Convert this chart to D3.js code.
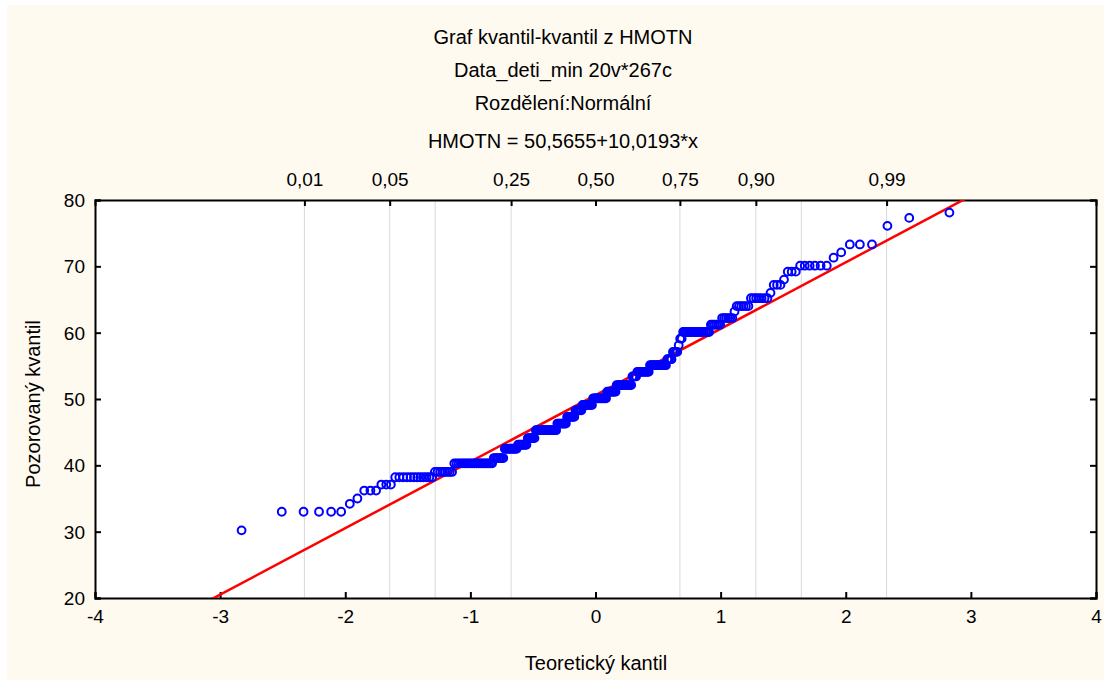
<!DOCTYPE html>
<html>
<head>
<meta charset="utf-8">
<script src="https://cdn.jsdelivr.net/npm/d3@7"></script>
<style>
  body { margin: 0; background: #ffffff; }
  text { font-family: "Liberation Sans", Arial, sans-serif; fill: #000; }
</style>
</head>
<body>
<div id="chart"></div>
<script>
// chart texts
var titleLines = ["Graf kvantil-kvantil z HMOTN", "Data_deti_min 20v*267c", "Rozdělení:Normální", "HMOTN = 50,5655+10,0193*x"];
var xTitle = "Teoretický kantil";
var yTitle = "Pozorovaný kvantil";

// observed (sorted) values of HMOTN and how many cases have each value
var obsValues = [30.2, 33.0, 34.2, 35.0, 36.2, 37.1, 38.2, 39.0, 40.3, 41.1, 42.5, 43.1, 44.1, 45.3, 46.3, 47.3, 48.3, 49.1, 50.1, 51.1, 52.1, 53.4, 54.1, 55.1, 56.0, 57.1, 58.1, 59.1, 60.1, 61.2, 62.2, 63.2, 64.0, 65.2, 66.0, 67.2, 68.0, 69.2, 70.1, 71.3, 72.1, 73.3, 76.1, 77.3, 78.1];
var obsCounts = [1, 5, 1, 1, 3, 3, 12, 8, 21, 7, 9, 7, 6, 17, 8, 7, 6, 9, 12, 8, 13, 4, 10, 13, 4, 4, 1, 2, 17, 6, 6, 1, 6, 7, 1, 3, 1, 3, 6, 1, 1, 3, 1, 1, 1];

// fitted line
var lineIntercept = 50.5655;
var lineSlope = 10.0193;

// axes
var xTicks = [-4, -3, -2, -1, 0, 1, 2, 3, 4];
var yTicks = [20, 30, 40, 50, 60, 70, 80];
var probGrid = [0.01, 0.05, 0.10, 0.25, 0.75, 0.90, 0.95, 0.99];
var probLabels = [0.01, 0.05, 0.25, 0.50, 0.75, 0.90, 0.99];

var svgWidth = 1104;
var svgHeight = 680;

var margin = { top: 200, right: 8, bottom: 82, left: 95 };
var width = svgWidth - margin.left - margin.right;
var height = svgHeight - margin.top - margin.bottom;

// inverse normal cdf (Acklam)
function qnorm(p) {
  var a = [-3.969683028665376e+01, 2.209460984245205e+02, -2.759285104469687e+02, 1.383577518672690e+02, -3.066479806614716e+01, 2.506628277459239e+00];
  var b = [-5.447609879822406e+01, 1.615858368580409e+02, -1.556989798598866e+02, 6.680131188771972e+01, -1.328068155288572e+01];
  var c = [-7.784894002430293e-03, -3.223964580411365e-01, -2.400758277161838e+00, -2.549732539343734e+00, 4.374664141464968e+00, 2.938163982698783e+00];
  var d = [7.784695709041462e-03, 3.224671290700398e-01, 2.445134137142996e+00, 3.754408661907416e+00];
  var pl = 0.02425, q, r;
  if (p < pl) {
    q = Math.sqrt(-2 * Math.log(p));
    return (((((c[0]*q+c[1])*q+c[2])*q+c[3])*q+c[4])*q+c[5]) / ((((d[0]*q+d[1])*q+d[2])*q+d[3])*q+1);
  }
  if (p > 1 - pl) {
    q = Math.sqrt(-2 * Math.log(1 - p));
    return -(((((c[0]*q+c[1])*q+c[2])*q+c[3])*q+c[4])*q+c[5]) / ((((d[0]*q+d[1])*q+d[2])*q+d[3])*q+1);
  }
  q = p - 0.5;
  r = q * q;
  return (((((a[0]*r+a[1])*r+a[2])*r+a[3])*r+a[4])*r+a[5])*q / (((((b[0]*r+b[1])*r+b[2])*r+b[3])*r+b[4])*r+1);
}

// expand counts into sorted cases, theoretical quantile by rank (Blom)
var cases = [];
obsValues.forEach(function(v, k) {
  for (var j = 0; j < obsCounts[k]; j++) cases.push(v);
});
var n = cases.length;
var qqData = cases.map(function(v, i) {
  return { x: qnorm((i + 1 - 0.375) / (n + 0.25)), y: v };
});

var svg = d3.select("#chart")
  .append("svg")
  .attr("width", svgWidth)
  .attr("height", svgHeight);

// cream background
svg.append("rect")
  .attr("x", 7).attr("y", 5)
  .attr("width", svgWidth - 7).attr("height", svgHeight - 5)
  .attr("fill", "#fffaf0");

var chartGroup = svg.append("g")
  .attr("transform", `translate(${margin.left}, ${margin.top})`);

chartGroup.append("rect")
  .attr("width", width).attr("height", height)
  .attr("fill", "#ffffff");

var xScale = d3.scaleLinear().domain([-4, 4]).range([0, width]);
var yScale = d3.scaleLinear().domain([20, 80]).range([height, 0]);

chartGroup.append("clipPath").attr("id", "plotclip")
  .append("rect").attr("width", width).attr("height", height);

// probability grid lines
chartGroup.selectAll(".pgrid")
  .data(probGrid)
  .enter()
  .append("line")
  .attr("x1", d => xScale(qnorm(d)))
  .attr("x2", d => xScale(qnorm(d)))
  .attr("y1", 0)
  .attr("y2", height)
  .attr("stroke", "#d9d9d9")
  .attr("stroke-width", 1);

// axes, ticks pointing inward
var bottomAxis = d3.axisBottom(xScale).tickValues(xTicks).tickSize(-6).tickPadding(12).tickFormat(d3.format("d"));
var leftAxis = d3.axisLeft(yScale).tickValues(yTicks).tickSize(-6).tickPadding(10);
var rightAxis = d3.axisRight(yScale).tickValues(yTicks).tickSize(-6).tickFormat("");
var topAxis = d3.axisTop(xScale).tickValues(probLabels.map(qnorm)).tickSize(-6).tickPadding(14)
  .tickFormat((d, i) => d3.format(".2f")(probLabels[i]).replace(".", ","));

var gx = chartGroup.append("g").attr("transform", `translate(0, ${height})`).call(bottomAxis);
var gy = chartGroup.append("g").call(leftAxis);
var gr = chartGroup.append("g").attr("transform", `translate(${width}, 0)`).call(rightAxis);
var gt = chartGroup.append("g").call(topAxis);

[gx, gy, gr, gt].forEach(function(g) {
  g.select(".domain").attr("stroke", "#000").attr("stroke-width", 2);
  g.selectAll(".tick line").attr("stroke", "#000").attr("stroke-width", 2);
  g.selectAll(".tick text").style("font-size", "19px").attr("fill", "#000")
    .style("font-family", '"Liberation Sans", Arial, sans-serif');
});
gx.selectAll(".tick text").text(d => d < 0 ? "-" + Math.abs(d) : d);
gy.selectAll(".tick text").attr("dy", "0.35em");
gt.selectAll(".tick text").attr("dy", "0em");

// fitted line
chartGroup.append("line")
  .attr("clip-path", "url(#plotclip)")
  .attr("x1", xScale(-4)).attr("y1", yScale(lineIntercept + lineSlope * -4))
  .attr("x2", xScale(4)).attr("y2", yScale(lineIntercept + lineSlope * 4))
  .attr("stroke", "#ff0000")
  .attr("stroke-width", 2.5);

// points
chartGroup.append("g").selectAll("circle")
  .data(qqData)
  .enter()
  .append("circle")
  .attr("cx", d => xScale(d.x))
  .attr("cy", d => yScale(d.y))
  .attr("r", 3.9)
  .attr("fill", "none")
  .attr("stroke", "#0000ff")
  .attr("stroke-width", 2);

// titles
svg.append("g").selectAll("text")
  .data(titleLines)
  .enter()
  .append("text")
  .attr("x", 563)
  .attr("y", (d, i) => [44, 77, 110, 148][i])
  .attr("text-anchor", "middle")
  .style("font-size", "20px")
  .text(d => d);

// axis labels
svg.append("text")
  .attr("x", 596).attr("y", 670)
  .attr("text-anchor", "middle")
  .style("font-size", "20px")
  .text(xTitle);

svg.append("text")
  .attr("transform", "translate(40, 404) rotate(-90)")
  .attr("text-anchor", "middle")
  .style("font-size", "20px")
  .text(yTitle);
</script>
</body>
</html>
